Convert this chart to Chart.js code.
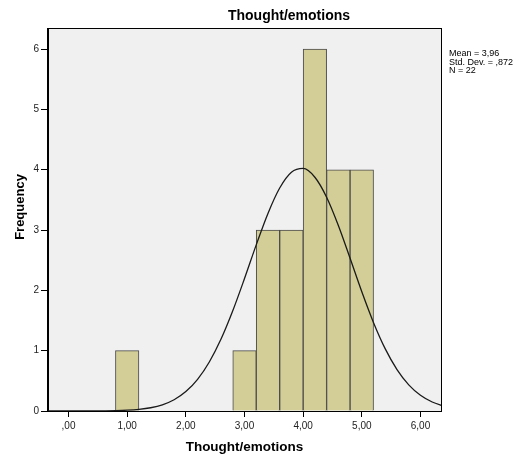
<!DOCTYPE html>
<html>
<head>
<meta charset="utf-8">
<script src="https://cdn.jsdelivr.net/npm/chart.js@4.4.1/dist/chart.umd.min.js"></script>
<style>
  html, body { margin: 0; padding: 0; background: #fff; }
  #wrap { width: 522px; height: 460px; }
</style>
</head>
<body>
<div id="wrap"><canvas id="histChart" width="522" height="460"></canvas></div>
<script>
// histogram bins (bin midpoints, width 0.4) and counts
const binCenters = [1.0, 3.0, 3.4, 3.8, 4.2, 4.6, 5.0];
const binCounts = [1, 1, 3, 3, 6, 4, 4];

// fitted normal curve
const curveX = [-0.4, 0.0, 0.4, 0.8, 1.0, 1.2, 1.4, 1.6, 1.8, 2.0, 2.2, 2.4, 2.6, 2.8, 3.0, 3.2, 3.4, 3.6, 3.8, 4.0,
                4.2, 4.4, 4.6, 4.8, 5.0, 5.2, 5.4, 5.6, 5.8, 6.0, 6.2, 6.4];
const curveY = [0.0, 0.0001, 0.001, 0.006, 0.013, 0.027, 0.054, 0.103, 0.187, 0.322, 0.525, 0.813, 1.193, 1.662, 2.196, 2.754, 3.276, 3.697, 3.959, 4.022,
                3.876, 3.545, 3.076, 2.532, 1.977, 1.465, 1.030, 0.687, 0.434, 0.261, 0.149, 0.080];

const xTicks = [0, 1, 2, 3, 4, 5, 6];
const yTicks = [0, 1, 2, 3, 4, 5, 6];
const statLines = ['Mean = 3,96', 'Std. Dev. = ,872', 'N = 22'];

const chartTitle = 'Thought/emotions';
const xTitle = 'Thought/emotions';
const yTitle = 'Frequency';

const fontFamily = '"Liberation Sans", Arial, sans-serif';

function fmtX(v) {
    const s = v.toFixed(2).replace('.', ',');
    return s.startsWith('0,') ? s.slice(1) : s;
}

const decorPlugin = {
    id: 'decor',
    beforeDraw(chart) {
        const { ctx, chartArea: a } = chart;
        ctx.save();
        ctx.fillStyle = '#f0f0f0';
        ctx.fillRect(a.left, a.top, a.right - a.left, a.bottom - a.top);
        ctx.restore();
    },
    afterDraw(chart) {
        const { ctx, chartArea: a } = chart;
        ctx.save();
        ctx.strokeStyle = '#000';
        ctx.lineWidth = 1;
        ctx.strokeRect(a.left - 0.5, a.top + 0.5, a.right - a.left + 1, a.bottom - a.top);

        ctx.fillStyle = '#000';
        ctx.textBaseline = 'middle';
        ctx.textAlign = 'center';
        ctx.font = 'bold 14px ' + fontFamily;
        ctx.fillText(chartTitle, 289, 16);

        ctx.font = 'bold 13.5px ' + fontFamily;
        ctx.fillText(xTitle, (a.left + a.right) / 2, 447);

        ctx.save();
        ctx.translate(20, 207);
        ctx.rotate(-Math.PI / 2);
        ctx.font = 'bold 13px ' + fontFamily;
        ctx.fillText(yTitle, 0, 0);
        ctx.restore();

        ctx.textAlign = 'left';
        ctx.font = '9px ' + fontFamily;
        statLines.forEach((t, i) => ctx.fillText(t, a.right + 8, 54 + i * 8.5));
        ctx.restore();
    }
};

new Chart(document.getElementById('histChart'), {
    data: {
        datasets: [
            {
                type: 'line',
                data: curveX.map((x, i) => ({ x: x, y: curveY[i] })),
                borderColor: '#1a1a1a',
                borderWidth: 1.3,
                pointRadius: 0,
                fill: false,
                cubicInterpolationMode: 'monotone',
                order: 0
            },
            {
                type: 'bar',
                data: binCenters.map((x, i) => ({ x: x, y: binCounts[i] })),
                backgroundColor: '#d3ce97',
                borderColor: '#4a4a4a',
                borderWidth: 1,
                barPercentage: 1,
                categoryPercentage: 1,
                order: 1
            }
        ]
    },
    options: {
        responsive: false,
        animation: false,
        layout: { padding: { top: 28, right: 81, left: 0, bottom: 0 } },
        plugins: {
            legend: { display: false },
            tooltip: { enabled: false }
        },
        scales: {
            x: {
                type: 'linear',
                min: -0.35,
                max: 6.35,
                offset: false,
                afterBuildTicks(scale) { scale.ticks = xTicks.map(v => ({ value: v })); },
                afterFit(scale) { scale.height = 49; },
                ticks: {
                    callback: v => fmtX(v),
                    color: '#222',
                    font: { family: fontFamily, size: 10 },
                    padding: 3,
                    maxRotation: 0,
                    autoSkip: false
                },
                grid: { offset: false, drawOnChartArea: false, drawTicks: true, tickLength: 6, color: '#000' },
                border: { display: true, color: '#000' }
            },
            y: {
                type: 'linear',
                min: 0,
                max: 6.35,
                afterBuildTicks(scale) { scale.ticks = yTicks.map(v => ({ value: v })); },
                afterFit(scale) { scale.width = 48; },
                ticks: {
                    color: '#222',
                    font: { family: fontFamily, size: 10 },
                    padding: 2
                },
                grid: { drawOnChartArea: false, drawTicks: true, tickLength: 7, color: '#000' },
                border: { display: true, color: '#000' }
            }
        }
    },
    plugins: [decorPlugin]
});
</script>
</body>
</html>
